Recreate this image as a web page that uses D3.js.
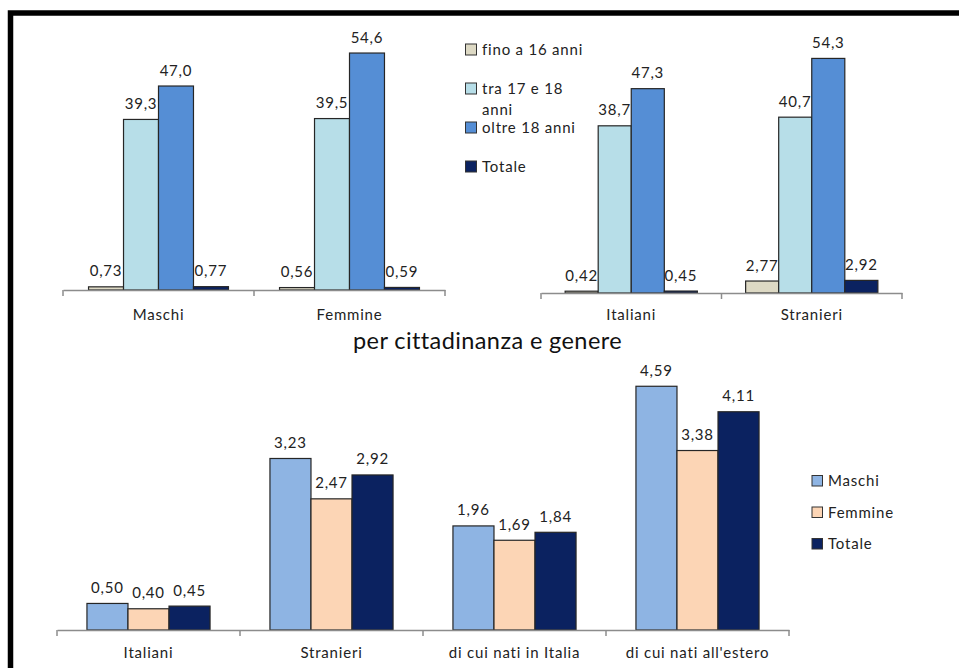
<!DOCTYPE html>
<html>
<head>
<meta charset="utf-8">
<script src="https://cdn.jsdelivr.net/npm/d3@7"></script>
<style>
  html, body { margin: 0; padding: 0; background: #fff; }
  svg { display: block; font-family: Lato, "Open Sans", sans-serif; }
  .lbl { font-size: 15px; fill: #222; letter-spacing: 0.8px; }
</style>
</head>
<body>
<svg id="chart" width="959" height="668"></svg>
<script>
// Age-band series (top panels)
const ageSeries = ["fino a 16 anni", "tra 17 e 18 anni", "oltre 18 anni", "Totale"];
const ageLegendLines = [["fino a 16 anni"], ["tra 17 e 18", "anni"], ["oltre 18 anni"], ["Totale"]];
const ageColors = ["#ddd9c4", "#b7dee8", "#558ed5", "#0b2260"];

// Top-left panel: by gender
const genderCats = ["Maschi", "Femmine"];
const genderValues = [
  [0.73, 39.3, 47.0, 0.77],
  [0.56, 39.5, 54.6, 0.59]
];
const genderLabels = [
  ["0,73", "39,3", "47,0", "0,77"],
  ["0,56", "39,5", "54,6", "0,59"]
];

// Top-right panel: by citizenship
const citizCats = ["Italiani", "Stranieri"];
const citizValues = [
  [0.42, 38.7, 47.3, 0.45],
  [2.77, 40.7, 54.3, 2.92]
];
const citizLabels = [
  ["0,42", "38,7", "47,3", "0,45"],
  ["2,77", "40,7", "54,3", "2,92"]
];

// Bottom panel: by citizenship and gender
const bottomTitle = "per cittadinanza e genere";
const bottomCats = ["Italiani", "Stranieri", "di cui nati in Italia", "di cui nati all'estero"];
const bottomSeries = ["Maschi", "Femmine", "Totale"];
const bottomColors = ["#8eb4e3", "#fcd5b5", "#0b2260"];
const bottomValues = [
  [0.50, 0.40, 0.45],
  [3.23, 2.47, 2.92],
  [1.96, 1.69, 1.84],
  [4.59, 3.38, 4.11]
];
const bottomLabels = [
  ["0,50", "0,40", "0,45"],
  ["3,23", "2,47", "2,92"],
  ["1,96", "1,69", "1,84"],
  ["4,59", "3,38", "4,11"]
];

const svg = d3.select("#chart");

// Outer frame (top and left edges visible)
svg.append("path")
  .attr("d", "M10.5,700 L10.5,13 L980,13")
  .attr("fill", "none")
  .attr("stroke", "#000")
  .attr("stroke-width", 5.5);

function groupedBars(opts) {
  const g = svg.append("g");
  const x0 = d3.scaleBand().domain(opts.cats).range(opts.xRange).padding(0);
  const x1 = d3.scaleBand().domain(d3.range(opts.series.length))
    .range([0, x0.bandwidth()]).paddingInner(0).paddingOuter(0.73);
  const y = d3.scaleLinear().domain(opts.yDomain).range(opts.yRange);

  opts.cats.forEach((c, ci) => {
    const grp = g.append("g").attr("transform", `translate(${x0(c)},0)`);
    grp.selectAll("rect").data(opts.values[ci]).join("rect")
      .attr("x", (d, i) => x1(i))
      .attr("y", d => y(d))
      .attr("width", x1.bandwidth())
      .attr("height", d => y(0) - y(d))
      .attr("fill", (d, i) => opts.colors[i])
      .attr("stroke", "#262626")
      .attr("stroke-width", 1.2);
    grp.selectAll("text").data(opts.values[ci]).join("text")
      .attr("class", "lbl")
      .attr("x", (d, i) => x1(i) + x1.bandwidth() / 2)
      .attr("y", d => y(d) - 10.5)
      .attr("text-anchor", "middle")
      .text((d, i) => opts.labels[ci][i]);
  });

  // Category axis: baseline, boundary ticks, centred labels
  const axis = d3.axisBottom(x0).tickSize(0).tickPadding(opts.labelPad);
  const ax = g.append("g").attr("transform", `translate(0,${y(0)})`).call(axis);
  ax.select(".domain").attr("stroke", "#8c8c8c").attr("stroke-width", 1.5);
  ax.selectAll(".tick text")
    .attr("class", "lbl")
    .style("font-family", "Lato, sans-serif")
    .style("font-size", "15px")
    .attr("fill", "#222");
  const edges = opts.cats.map(c => x0(c)).concat([opts.xRange[1]]);
  ax.selectAll(".edge").data(edges).join("line")
    .attr("x1", d => d).attr("x2", d => d)
    .attr("y1", 0).attr("y2", 6)
    .attr("stroke", "#8c8c8c").attr("stroke-width", 1.5);
  return g;
}

groupedBars({
  cats: genderCats, series: ageSeries, values: genderValues, labels: genderLabels,
  colors: ageColors, xRange: [63, 445], yDomain: [0, 60], yRange: [290, 29.6], labelPad: 19.5
});
groupedBars({
  cats: citizCats, series: ageSeries, values: citizValues, labels: citizLabels,
  colors: ageColors, xRange: [541, 902], yDomain: [0, 60], yRange: [293, 33.8], labelPad: 16.5
});
groupedBars({
  cats: bottomCats, series: bottomSeries, values: bottomValues, labels: bottomLabels,
  colors: bottomColors, xRange: [57, 789], yDomain: [0, 5], yRange: [630, 364.5], labelPad: 17.5
});

// Legend for age bands
const leg1 = svg.append("g");
const leg1Y = [50, 89, 128, 167];
ageSeries.forEach((s, i) => {
  leg1.append("rect")
    .attr("x", 465.5).attr("y", leg1Y[i] - 6)
    .attr("width", 11).attr("height", 11)
    .attr("fill", ageColors[i]).attr("stroke", "#333").attr("stroke-width", 1);
  ageLegendLines[i].forEach((line, li) => {
    leg1.append("text").attr("class", "lbl")
      .attr("x", 482).attr("y", leg1Y[i] + 5 + li * 21)
      .text(line);
  });
});

// Title of bottom panel
svg.append("text")
  .attr("x", 487.5).attr("y", 349)
  .attr("text-anchor", "middle")
  .style("font-size", "23.5px")
  .style("letter-spacing", "0.4px")
  .attr("fill", "#111")
  .text(bottomTitle);

// Legend for gender series
const leg2 = svg.append("g");
const leg2Y = [481, 512.5, 544];
bottomSeries.forEach((s, i) => {
  leg2.append("rect")
    .attr("x", 812).attr("y", leg2Y[i] - 5.5)
    .attr("width", 10.5).attr("height", 10.5)
    .attr("fill", bottomColors[i]).attr("stroke", "#333").attr("stroke-width", 1);
  leg2.append("text").attr("class", "lbl")
    .attr("x", 828).attr("y", leg2Y[i] + 5)
    .text(s);
});
</script>
</body>
</html>
